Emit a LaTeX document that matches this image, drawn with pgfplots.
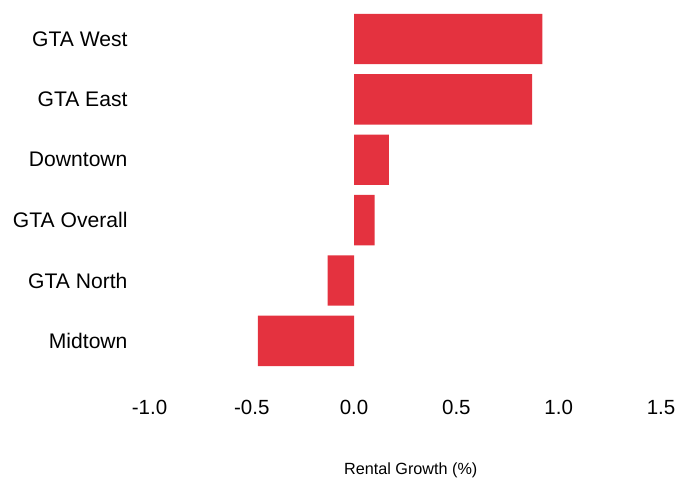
\documentclass[border=0pt]{standalone}
\usepackage{pgfplots}
\pgfplotsset{compat=1.18}
\usepackage{fontspec}
\setmainfont{Liberation Sans}
\definecolor{barred}{RGB}{228,50,63}
\begin{document}
\begin{tikzpicture}
\begin{axis}[
  scale only axis,
  width=511.5bp, height=378bp,
  xbar, bar width=0.834,
  xmin=-1, xmax=1.5,
  ymin=-0.7, ymax=5.56,
  xtick={-1,-0.5,0,0.5,1,1.5},
  xticklabels={{-1.0},{-0.5},{0.0},{0.5},{1.0},{1.5}},
  ytick={0,1,2,3,4,5},
  yticklabels={Midtown,GTA North,GTA Overall,Downtown,GTA East,GTA West},
  axis line style={draw=none},
  major tick length=0pt,
  xticklabel style={font=\fontsize{20.5bp}{24bp}\selectfont, anchor=base, yshift=-31.7bp},
  yticklabel style={font=\fontsize{21.1bp}{24bp}\selectfont, anchor=east, xshift=-18.5bp},
  xlabel={Rental Growth (\%)},
  xlabel style={font=\fontsize{16.2bp}{19bp}\selectfont,
    at={(axis description cs:0.5,0)}, anchor=base, yshift=-91.7bp, xshift=5.5bp},
  clip=false,
]
\addplot[fill=barred, draw=none] coordinates {
  (-0.47,0) (-0.13,1) (0.10,2) (0.17,3) (0.87,4) (0.92,5)
};
\end{axis}
\path (current axis.south west) ++(-149.5bp,-95.7bp) coordinate (a);
\path (current axis.north east) ++(28bp,5.2bp) coordinate (b);
\path (a) rectangle (b);
\end{tikzpicture}
\end{document}
